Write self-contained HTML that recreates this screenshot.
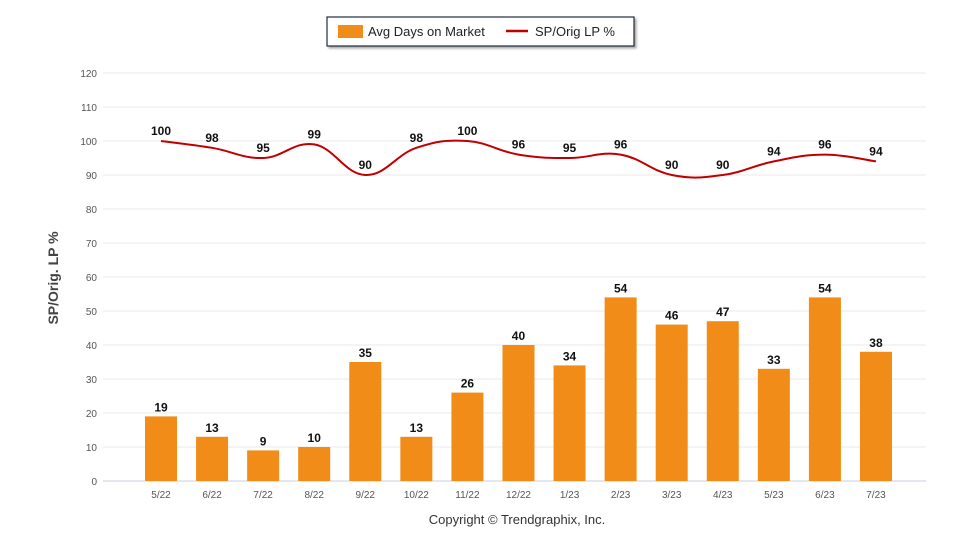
<!DOCTYPE html>
<html><head><meta charset="utf-8"><style>
body{margin:0;background:#fff;width:960px;height:550px;overflow:hidden;font-family:"Liberation Sans",sans-serif}
</style></head><body>
<svg id="chart" width="960" height="550" xmlns="http://www.w3.org/2000/svg" font-family="Liberation Sans, sans-serif">
<g>
<rect x="327" y="17" width="307" height="29" fill="#fff" stroke="#1f2d3d" stroke-width="1.2" style="filter:drop-shadow(2px 2px 1px #aaa)"/>
<rect x="338" y="25" width="25" height="13" fill="#f08c17"/>
<text x="368" y="36" font-size="13" fill="#222">Avg Days on Market</text>
<line x1="506" y1="31" x2="528" y2="31" stroke="#c00000" stroke-width="2.5"/>
<text x="535" y="36" font-size="13" fill="#222">SP/Orig LP %</text>
</g>
<g id="grid"></g><g id="bars"></g><g id="line"></g><g id="labels"></g>
<text transform="translate(58,278) rotate(-90)" text-anchor="middle" font-size="14" font-weight="bold" fill="#444">SP/Orig. LP %</text>
<text x="517" y="524" text-anchor="middle" font-size="13" fill="#333">Copyright © Trendgraphix, Inc.</text>
</svg>
<script>
const categories=["5/22","6/22","7/22","8/22","9/22","10/22","11/22","12/22","1/23","2/23","3/23","4/23","5/23","6/23","7/23"];
const daysOnMarket=[19,13,9,10,35,13,26,40,34,54,46,47,33,54,38];
const spOrigLp=[100,98,95,99,90,98,100,96,95,96,90,90,94,96,94];
const yTicks=[0,10,20,30,40,50,60,70,80,90,100,110,120];
const NS="http://www.w3.org/2000/svg";
const y=v=>481-v*3.4;
const x=i=>161+i*51.07;
function mk(tag,attrs,parent,text){const e=document.createElementNS(NS,tag);for(const k in attrs)e.setAttribute(k,attrs[k]);if(text!==undefined)e.textContent=text;document.getElementById(parent).appendChild(e);return e;}
yTicks.forEach(t=>{
 const l=mk('line',{x1:103,x2:926,y1:y(t),y2:y(t),stroke:t===0?'#ccd':'#e8e8e8','stroke-width':1},'grid');
 
 
 const tx=mk('text',{x:97,y:y(t)+4,'text-anchor':'end','font-size':10,fill:'#555'},'grid',t);
 
 
});
categories.forEach((c,i)=>{
 const tx=mk('text',{x:x(i),y:498,'text-anchor':'middle','font-size':10,fill:'#555'},'grid',c);
 
 
 const v=daysOnMarket[i];
 const b=mk('rect',{x:x(i)-16,y:y(v),width:32,height:v*3.4,fill:'#f08c17'},'bars');
 
 
 const bl=mk('text',{x:x(i),y:y(v)-5,'text-anchor':'middle','font-size':12,'font-weight':'bold',fill:'#111'},'labels',v);
 
 
 const s=spOrigLp[i];
 const ll=mk('text',{x:x(i),y:y(s)-6,'text-anchor':'middle','font-size':12,'font-weight':'bold',fill:'#111'},'labels',s);
 
 
});
const pts=spOrigLp.map((v,i)=>[x(i),y(v)]);
let d='M'+pts[0][0]+','+pts[0][1];
const t=0.2;
for(let i=0;i<pts.length-1;i++){
 const p0=pts[Math.max(0,i-1)],p1=pts[i],p2=pts[i+1],p3=pts[Math.min(pts.length-1,i+2)];
 const c1=[p1[0]+(p2[0]-p0[0])*t,p1[1]+(p2[1]-p0[1])*t];
 const c2=[p2[0]-(p3[0]-p1[0])*t,p2[1]-(p3[1]-p1[1])*t];
 d+=` C${c1[0]},${c1[1]} ${c2[0]},${c2[1]} ${p2[0]},${p2[1]}`;
}
const path=mk('path',{d:d,fill:'none',stroke:'#c00000','stroke-width':2},'line');


</script>
</body></html>
